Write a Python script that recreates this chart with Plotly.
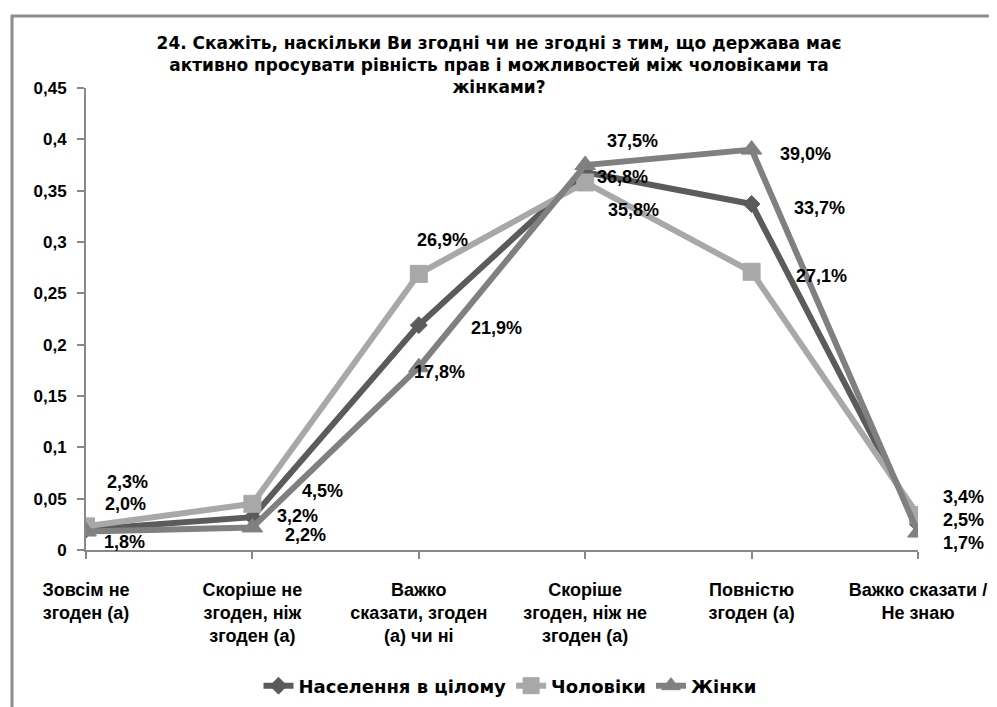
import plotly.graph_objects as go

categories = ["Зовсім не<br>згоден (а)", "Скоріше не<br>згоден, ніж<br>згоден (а)",
              "Важко<br>сказати, згоден<br>(а) чи ні", "Скоріше<br>згоден, ніж не<br>згоден (а)",
              "Повністю<br>згоден (а)", "Важко сказати /<br>Не знаю"]
series_names = ["Населення в цілому", "Чоловіки", "Жінки"]
population = [0.020, 0.032, 0.219, 0.368, 0.337, 0.025]
men = [0.023, 0.045, 0.269, 0.358, 0.271, 0.034]
women = [0.018, 0.022, 0.178, 0.375, 0.390, 0.017]
y_ticks = [0, 0.05, 0.1, 0.15, 0.2, 0.25, 0.3, 0.35, 0.4, 0.45]
y_ticktext = ["0", "0,05", "0,1", "0,15", "0,2", "0,25", "0,3", "0,35", "0,4", "0,45"]

# label offsets (pixels, right/down) per series
offsets = [
    [(39, -25), (45, -1), (78, 3), (37, 5), (68, 4), (45, -4)],
    [(41, -44), (70, -13), (24, -34), (48, 28), (70, 4), (45, -18)],
    [(38, 10), (53, 8), (21, 5), (47, -24), (54, 4), (45, 10)],
]
colors = ["#5b5b5b", "#a8a8a8", "#808080"]
symbols = ["diamond", "square", "triangle-up"]
msizes = [13, 17, 18]

TFONT = "DejaVu Sans"
NFONT = "Liberation Sans"
W, H = 997, 707
PAGE = 8  # default body margin of the html page
PL, PR, PT, PB = 86, 918, 88, 550
ml, mr, mt = PL - PAGE, W - (PR - PAGE), PT - PAGE
mb = H - (PB - PAGE)
pw, ph = PR - PL, PB - PT

x = list(range(len(categories)))
fig = go.Figure()
all_series = [population, men, women]
for name, vals, col, sym, ms in zip(series_names, all_series, colors, symbols, msizes):
    fig.add_trace(go.Scatter(
        x=x, y=vals, name=f"<b>{name}</b>", mode="lines+markers",
        line=dict(color=col, width=6),
        marker=dict(symbol=sym, size=ms, color=col, line=dict(width=1, color=col)),
    ))

annotations = []
for vals, offs in zip(all_series, offsets):
    for i, v in enumerate(vals):
        annotations.append(dict(
            x=i, y=v, xref="x", yref="y",
            text="<b>" + f"{v*100:.1f}%".replace(".", ",") + "</b>",
            showarrow=False, xshift=offs[i][0], yshift=-offs[i][1],
            font=dict(family=NFONT, size=18, color="#000000"),
        ))

fig.update_layout(
    width=W, height=H,
    paper_bgcolor="white", plot_bgcolor="white",
    margin=dict(l=ml, r=mr, t=mt, b=mb, autoexpand=False),
    font=dict(family=TFONT, color="#000000"),
    title=dict(
        text="<b>24. Скажіть, наскільки Ви згодні чи не згодні з тим, що держава має<br>активно просувати рівність прав і можливостей між чоловіками та<br>жінками?</b>",
        x=(499 - PAGE) / W, xanchor="center", xref="container",
        y=1 - 41 / H, yanchor="top", yref="container",
        font=dict(family=TFONT, size=17, color="#000000"),
    ),
    xaxis=dict(
        range=[0, 5], tickvals=x, ticktext=[f"<b>{c}</b>" for c in categories],
        showgrid=False, zeroline=False, showline=True, linecolor="#888888", linewidth=2,
        ticks="outside", ticklen=7, tickcolor="#888888", tickwidth=2,
        ticklabelstandoff=15,
        tickfont=dict(family=NFONT, size=18, color="#000000"),
    ),
    yaxis=dict(
        range=[0, 0.45], tickvals=y_ticks, ticktext=[f"<b>{t}</b>" for t in y_ticktext],
        showgrid=False, zeroline=False, showline=True, linecolor="#888888", linewidth=2,
        ticks="outside", ticklen=7, tickcolor="#888888", tickwidth=2,
        ticklabelstandoff=7,
        tickfont=dict(family=NFONT, size=17, color="#000000"),
    ),
    legend=dict(
        orientation="h", x=(510 - PL) / pw, xanchor="center",
        y=(PB - 686) / ph, yanchor="middle",
        font=dict(family=TFONT, size=18, color="#000000"),
        traceorder="normal",
    ),
    annotations=annotations,
    shapes=[dict(type="rect", xref="paper", yref="paper",
                 x0=(12 - PL) / pw, x1=(1010 - PL) / pw,
                 y0=(PB - 720) / ph, y1=(PB - 16) / ph,
                 line=dict(color="#8c8c8c", width=3), fillcolor="rgba(0,0,0,0)", layer="below")],
)
fig.write_html("out.html")
